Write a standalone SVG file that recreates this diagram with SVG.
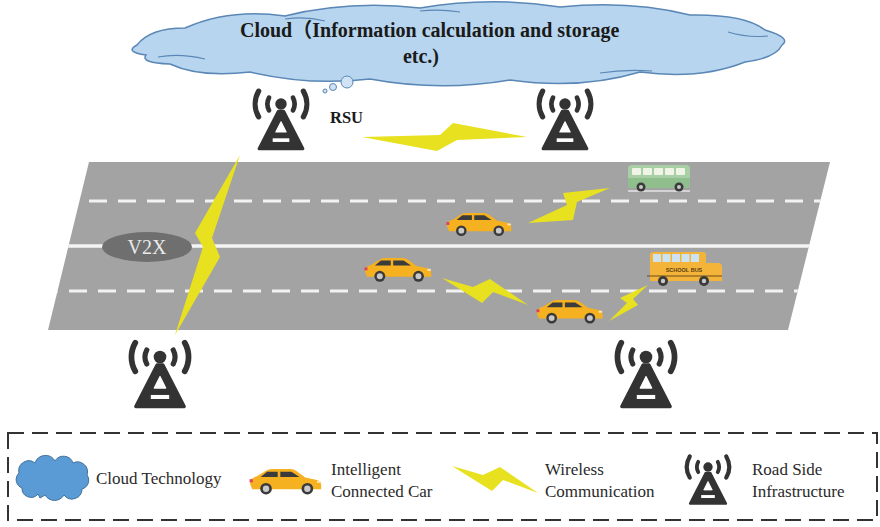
<svg xmlns="http://www.w3.org/2000/svg" xmlns:xlink="http://www.w3.org/1999/xlink" width="880" height="527" viewBox="0 0 880 527">
  <style>
    .serif { font-family: "Liberation Serif", "Noto Sans CJK SC", serif; }
    .title { font-size: 20px; font-weight: bold; fill: #1a1a1a; }
    .legend-text { font-size: 17px; fill: #2a2a2a; }
    .bolt { fill: #e8e11f; }
    .wave { fill: none; stroke: #333; stroke-linecap: round; }
    .lane-dash { stroke: #f2f2f2; stroke-width: 3; stroke-dasharray: 18 11; }
    .tire { fill: #3a3a3a; }
    .hub { fill: #c9c9c9; }
  </style>
  <defs>
    <!-- hatchback, facing right, local box 0..70 x 0..26 -->
    <g id="car">
      <path d="M4,21 L2,16 Q2,10 8,9 L17,3.5 Q19,2 23,2 L40,2 Q43,2 46,4 L54,10 L64,12 Q69,13 69,17 L69,21 Z" fill="#f5b120"/>
      <path d="M18,4.5 L28,4.5 L28,9.5 L12,9.5 Z" fill="#3b3b3b"/>
      <path d="M30.5,4.5 L41,4.5 L48.5,9.5 L30.5,9.5 Z" fill="#3b3b3b"/>
      <rect x="1.5" y="11.5" width="3" height="3" fill="#e0405a"/>
      <rect x="65" y="13" width="3.5" height="2" fill="#fbe7b0"/>
      <circle cx="17" cy="20.5" r="5.5" class="tire"/>
      <circle cx="17" cy="20.5" r="3" class="hub"/>
      <circle cx="56" cy="20.5" r="5.5" class="tire"/>
      <circle cx="56" cy="20.5" r="3" class="hub"/>
    </g>
    <!-- road side unit icon, origin at the beacon dot -->
    <g id="tower">
      <path class="wave" stroke-width="4.5" d="M11.5,-6.1 A13,13 0 0 1 11.5,6.1 M-11.5,-6.1 A13,13 0 0 0 -11.5,6.1"/>
      <path class="wave" stroke-width="5" d="M21.5,-12.4 A24.8,24.8 0 0 1 21.5,12.4 M-21.5,-12.4 A24.8,24.8 0 0 0 -21.5,12.4"/>
      <circle cx="0" cy="0" r="5.5" fill="#333"/>
      <polygon points="-2.5,7 2.5,7 21,43 -21,43" fill="#333" stroke="#333" stroke-width="3" stroke-linejoin="round"/>
      <polygon points="0,17 5,27 -5,27" fill="#fff" stroke="#fff" stroke-width="1" stroke-linejoin="round"/>
      <rect x="-8" y="33" width="16" height="3.5" fill="#fff"/>
    </g>
    <clipPath id="road-clip">
      <polygon points="89,162 830,162 788,330 48,330"/>
    </clipPath>
  </defs>

  <rect width="880" height="527" fill="#fff"/>

  <!-- cloud service -->
  <g id="cloud">
    <path d="M137,45 Q150,28 185,28 Q230,8 285,16 Q350,0 420,8 Q490,-4 560,7 Q630,0 690,15 Q745,14 765,30 Q792,38 782,45 Q776,58 745,62 Q700,80 640,72 Q580,90 510,80 Q440,92 370,79 Q310,86 250,72 Q200,78 170,64 Q140,63 146,55 Q124,52 137,45 Z" fill="#b7d5ee" stroke="#5a87b5" stroke-width="1.5"/>
    <path d="M158,57 Q180,53 205,59 M728,32 Q748,38 768,36 M285,19 Q305,16 325,21 M600,73 Q625,69 652,71 M420,11 Q440,9 460,12" fill="none" stroke="#5a87b5" stroke-width="1.2"/>
    <text class="serif title" x="240" y="37">Cloud（Information calculation and storage</text>
    <text class="serif title" x="421" y="63" text-anchor="middle">etc.)</text>
    <circle cx="325" cy="91" r="2" fill="#cfe3f4" stroke="#5a87b5" stroke-width="1"/>
    <circle cx="333" cy="87" r="3.5" fill="#cfe3f4" stroke="#5a87b5" stroke-width="1"/>
    <circle cx="347" cy="82" r="6" fill="#cfe3f4" stroke="#5a87b5" stroke-width="1"/>
  </g>

  <!-- roadside units -->
  <g id="rsu-top-left">
    <use xlink:href="#tower" href="#tower" transform="translate(281,104) scale(1.04)"/>
    <text class="serif" x="330" y="123" font-size="16.5" font-weight="bold" fill="#1a1a1a">RSU</text>
  </g>
  <g id="rsu-top-right"><use xlink:href="#tower" href="#tower" transform="translate(565,104) scale(1.04)"/></g>
  <g id="rsu-bottom-left"><use xlink:href="#tower" href="#tower" transform="translate(160,357) scale(1.15)"/></g>
  <g id="rsu-bottom-right"><use xlink:href="#tower" href="#tower" transform="translate(646,357) scale(1.15)"/></g>

  <!-- road -->
  <g id="road">
    <polygon points="89,162 830,162 788,330 48,330" fill="#a3a3a3"/>
    <g clip-path="url(#road-clip)">
      <line x1="60" y1="201" x2="840" y2="201" class="lane-dash"/>
      <line x1="40" y1="291" x2="840" y2="291" class="lane-dash"/>
      <line x1="40" y1="246" x2="840" y2="246" stroke="#f4f4f4" stroke-width="3.5"/>
    </g>
  </g>

  <g id="v2x">
    <ellipse cx="147" cy="247" rx="45" ry="15" fill="#6f6f6f"/>
    <text class="serif" x="147" y="254" font-size="20" fill="#eaeaea" text-anchor="middle">V2X</text>
  </g>

  <!-- vehicles -->
  <g id="car-1"><use xlink:href="#car" href="#car" transform="translate(445,211) scale(0.96)"/></g>
  <g id="car-2"><use xlink:href="#car" href="#car" transform="translate(363,256) scale(0.99)"/></g>
  <g id="car-3"><use xlink:href="#car" href="#car" transform="translate(535,298) scale(0.98)"/></g>

  <g id="green-bus">
    <line x1="628" y1="191" x2="690" y2="191" stroke="#e4e4e4" stroke-width="1.5"/>
    <rect x="628" y="165" width="62" height="23" rx="4" fill="#a8cfa5"/>
    <path d="M628,178 H690 V184 Q690,188 686,188 H632 Q628,188 628,184 Z" fill="#8fbf8c"/>
    <rect x="632" y="168" width="9" height="7" rx="1" fill="#f0f4e6"/>
    <rect x="643" y="168" width="9" height="7" rx="1" fill="#f0f4e6"/>
    <rect x="654" y="168" width="9" height="7" rx="1" fill="#f0f4e6"/>
    <rect x="665" y="168" width="9" height="7" rx="1" fill="#f0f4e6"/>
    <rect x="676" y="168" width="9" height="7" rx="1" fill="#f0f4e6"/>
    <circle cx="641" cy="187" r="4.5" class="tire"/>
    <circle cx="641" cy="187" r="2" class="hub"/>
    <circle cx="679" cy="187" r="4.5" class="tire"/>
    <circle cx="679" cy="187" r="2" class="hub"/>
  </g>

  <g id="school-bus">
    <path d="M654,252 H703 Q706,252 706,255 V263 H718 Q722,263 722,267 V281 H650 V255 Q650,252 654,252 Z" fill="#f4b43a"/>
    <rect x="653" y="254" width="8" height="8" fill="#cde4f0"/>
    <rect x="662.5" y="254" width="8" height="8" fill="#cde4f0"/>
    <rect x="672" y="254" width="8" height="8" fill="#cde4f0"/>
    <rect x="681.5" y="254" width="8" height="8" fill="#cde4f0"/>
    <rect x="691" y="254" width="8" height="8" fill="#cde4f0"/>
    <text x="684" y="272" font-family="'Liberation Sans', sans-serif" font-size="5.5" font-weight="bold" fill="#5a3a10" text-anchor="middle">SCHOOL BUS</text>
    <line x1="647" y1="276" x2="722" y2="276" stroke="#6b4a1a" stroke-width="1.2"/>
    <circle cx="663" cy="281" r="5" class="tire"/>
    <circle cx="663" cy="281" r="2.2" class="hub"/>
    <circle cx="704" cy="281" r="5" class="tire"/>
    <circle cx="704" cy="281" r="2.2" class="hub"/>
  </g>

  <!-- wireless links -->
  <g id="connectors">
    <polygon class="bolt" points="362,137 440,135 453,123 527,137 457,140 437,151"/>
    <polygon class="bolt" points="240,155 195,233 203,247 175,335 220,257 212,238"/>
    <polygon class="bolt" points="528,223 567,205 563,193 610,188 577,202 573,220"/>
    <polygon class="bolt" points="442,278 473,287 490,279 528,305 493,292 482,303"/>
    <polygon class="bolt" points="648,285 620,298 627,303 609,321 638,305 633,299"/>
  </g>

  <!-- legend -->
  <g id="legend">
    <rect x="8" y="433" width="869" height="87" fill="none" stroke="#333" stroke-width="2" stroke-dasharray="16 8"/>
    <g id="legend-cloud">
      <path d="M22,488 A9,9 0 0 1 19,473 A10,10 0 0 1 35,463 A11,11 0 0 1 55,461 A10,10 0 0 1 73,463 A10,10 0 0 1 87,475 A9,9 0 0 1 82,489 A10,10 0 0 1 64,495 A11,11 0 0 1 45,495 L40,498 L38,494 A9,9 0 0 1 22,488 Z" fill="#5b9bd5" stroke="#41719c" stroke-width="1"/>
      <text class="serif legend-text" x="96" y="484">Cloud Technology</text>
    </g>
    <g id="legend-car">
      <use xlink:href="#car" href="#car" transform="translate(248,467) scale(1.06)"/>
      <text class="serif legend-text" x="331" y="475">Intelligent</text>
      <text class="serif legend-text" x="331" y="497">Connected Car</text>
    </g>
    <g id="legend-wireless">
      <polygon class="bolt" points="452,466 483,475 500,467 538,493 503,480 492,491"/>
      <text class="serif legend-text" x="545" y="475">Wireless</text>
      <text class="serif legend-text" x="545" y="497">Communication</text>
    </g>
    <g id="legend-rsu">
      <use xlink:href="#tower" href="#tower" transform="translate(708,467) scale(0.85)"/>
      <text class="serif legend-text" x="752" y="475">Road Side</text>
      <text class="serif legend-text" x="752" y="497">Infrastructure</text>
    </g>
  </g>
</svg>
